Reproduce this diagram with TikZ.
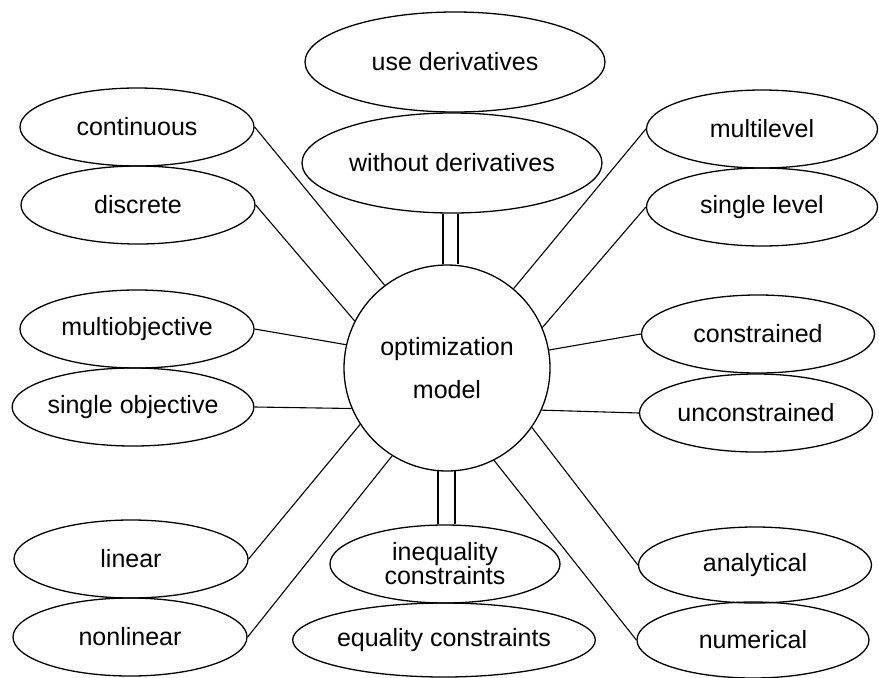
\documentclass[tikz,border=0pt]{standalone}
\usepackage{fontspec}
\setmainfont{Liberation Sans}
\usetikzlibrary{shapes.geometric}
\begin{document}
\begin{tikzpicture}[x=1pt,y=-1pt,
  every node/.style={font=\fontsize{25}{30}\selectfont},
  leaf/.style={ellipse,draw,line width=1.3pt,inner sep=0pt,minimum width=234pt,minimum height=78pt,align=center},
  hub/.style={circle,draw,line width=1.3pt,inner sep=0pt,minimum size=206pt,align=center},
  link/.style={line width=1.1pt}]
\useasboundingbox (0,0) rectangle (879,678);

% central node
\node[hub] (c) at (447,368) {optimization\\[13pt]model};

% derivative usage (top)
\node[leaf,minimum width=300pt,minimum height=100pt] (useder) at (455,62) {use derivatives};
\node[leaf,minimum width=300pt,minimum height=100pt] (without) at (452,163) {without derivatives};

% left column
\node[leaf] (cont) at (137,127) {continuous};
\node[leaf] (disc) at (138,205) {discrete};
\node[leaf] (multiobj) at (137,329) {multiobjective};
\node[leaf] (singleobj) at (133,407) {single objective};
\node[leaf] (lin) at (131,559) {linear};
\node[leaf] (nonlin) at (130,637) {nonlinear};

% right column
\node[leaf,minimum width=231pt] (multilev) at (762,129) {multilevel};
\node[leaf,minimum width=231pt] (singlelev) at (762,207) {single level};
\node[leaf,minimum width=233pt] (constr) at (758,334) {constrained};
\node[leaf,minimum width=233pt] (unconstr) at (756,413) {unconstrained};
\node[leaf,minimum width=233pt,minimum height=76pt] (analyt) at (755,565) {analytical};
\node[leaf,minimum width=232pt,minimum height=76pt] (numer) at (753,640) {numerical};

% constraint types (bottom)
\node[leaf,minimum width=230pt] (ineq) at (445,564) {inequality\\[-6pt]constraints};
\node[leaf,minimum width=231pt,minimum height=74pt] (eq) at (444,640) {equality constraints};

% spokes
\draw[link] (cont.east) -- (c.127.4);
\draw[link] (disc.east) -- (c.153.9);
\draw[link] (multiobj.east) -- (c.167.6);
\draw[link] (singleobj.east) -- (c.203.4);
\draw[link] (lin.east) -- (c.213.5);
\draw[link] (nonlin.east) -- (c.238.9);
\draw[link] (multilev.west) -- (c.50.2);
\draw[link] (singlelev.west) -- (c.23.3);
\draw[link] (constr.west) -- (c.10.1);
\draw[link] (unconstr.west) -- (c.-24.8);
\draw[link] (analyt.west) -- (c.-35.7);
\draw[link] (numer.west) -- (c.-63.2);

% double connectors
\draw[link] ([xshift=-9pt]without.south) -- ([xshift=-4pt]c.north);
\draw[link] ([xshift=6pt]without.south) -- ([xshift=11pt,yshift=0.6pt]c.north);
\draw[link] ([xshift=-9pt,yshift=0.4pt]c.south) -- ([xshift=-7pt]ineq.north);
\draw[link] ([xshift=8pt,yshift=0.3pt]c.south) -- ([xshift=10pt]ineq.north);
\end{tikzpicture}
\end{document}
